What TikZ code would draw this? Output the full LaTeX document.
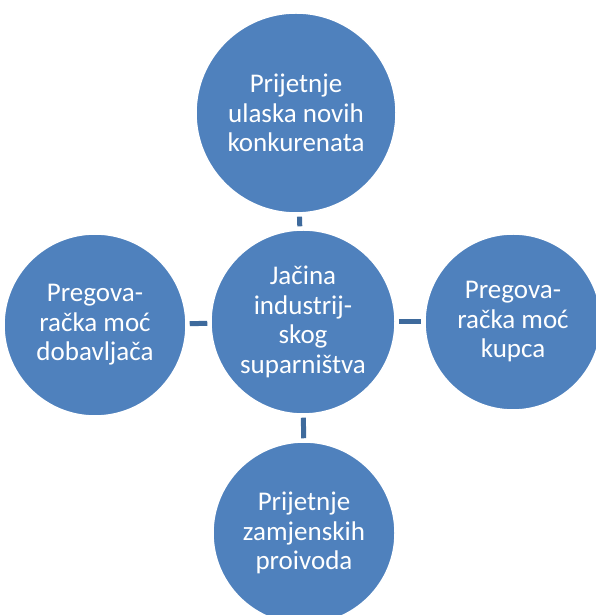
\documentclass[tikz,border=0pt]{standalone}
\usepackage{fontspec}
\setmainfont{Carlito}
\begin{document}
\begin{tikzpicture}[x=1pt,y=1pt,
  bubble/.style={circle, fill=blubg, draw=white, line width=1.5pt, inner sep=0pt,
    text=white, align=center, font=\fontsize{27}{29.5}\selectfont},
  link/.style={draw=linkc, line width=5pt, shorten <=3pt, shorten >=3pt}]
\definecolor{blubg}{HTML}{4F81BD}
\definecolor{linkc}{HTML}{3E6A9C}
\useasboundingbox (0,0) rectangle (595,615);
\node[bubble, minimum size=184pt] (c) at (303,293) {Jačina\\industrij-\\skog\\suparništva};
\node[bubble, minimum size=200pt] (t) at (296,502) {Prijetnje\\ulaska novih\\konkurenata};
\node[bubble, minimum size=182pt] (l) at (95,290) {Pregova-\\račka moć\\dobavljača};
\node[bubble, minimum size=176pt] (r) at (513,293) {Pregova-\\račka moć\\kupca};
\node[bubble, minimum size=182pt] (b) at (304,82) {Prijetnje\\zamjenskih\\proivoda};
\draw[link] (c) -- (t);
\draw[link] (c) -- (l);
\draw[link] (c) -- (r);
\draw[link] (c) -- (b);
\end{tikzpicture}
\end{document}
